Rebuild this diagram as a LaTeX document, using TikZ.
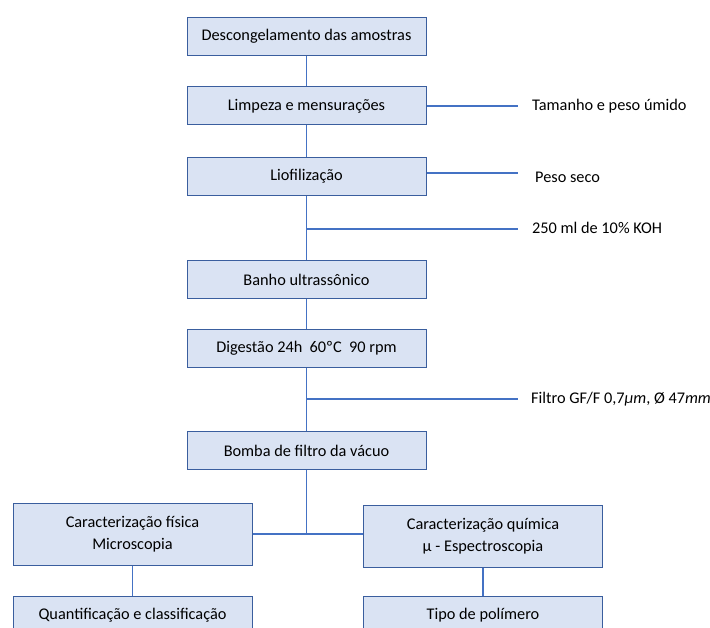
\documentclass[tikz,border=0pt]{standalone}
\usepackage{fontspec}
\setmainfont{Carlito}
\usepackage{tikz}
\usetikzlibrary{positioning,calc}
\usepackage{xcolor}
\definecolor{boxfill}{RGB}{218,227,243}
\definecolor{boxline}{RGB}{58,94,158}
\definecolor{linkblue}{RGB}{68,114,196}
\tikzstyle{stage} = [draw=boxline, line width=1pt, fill=boxfill, minimum width=239pt, minimum height=38pt, inner sep=0pt, align=center, font=\fontsize{16.3}{21.5}\selectfont]
\tikzstyle{wide} = [stage, minimum height=62pt]
\tikzstyle{link} = [line width=1.1pt, color=linkblue]
\tikzstyle{note} = [anchor=west, inner sep=0pt, font=\fontsize{16.3}{21.5}\selectfont]

\begin{document}
\begin{tikzpicture}[x=1pt, y=-1pt]
\useasboundingbox (0,0) rectangle (710,628);

% Main column
\node[stage] (desc)  at (306.5,36.5)  {Descongelamento das amostras};
\node[stage] (limp)  at (306.5,106)   {Limpeza e mensurações};
\node[stage] (liof)  at (306.5,176.5) {Liofilização};
\node[stage] (banho) at (306.5,280)   {Banho ultrassônico};
\node[stage] (dig)   at (306.5,348.5) {Digestão 24h~ 60ºC~ 90 rpm};
\node[stage] (bomba) at (306.5,450.5) {Bomba de filtro da vácuo};

% Characterization
\node[wide] (fis) at (132.5,534) {Caracterização física\\Microscopia};
\node[wide] (qui) at (483,536)   {Caracterização química\\µ - Espectroscopia};
\node[stage] (quant) at (132.5,615) {Quantificação e classificação};
\node[stage] (tipo)  at (483,615)   {Tipo de polímero};

% Side notes
\node[note] (n1) at (532,106) {Tamanho e peso úmido};
\node[note] (n2) at (535,177) {Peso seco};
\node[note] (n3) at (532,228) {250 ml de 10\% KOH};
\node[note] (n4) at (531,399) {Filtro GF/F 0,7\textit{µm}, Ø 47\textit{mm}};

\coordinate (e1) at (518,106);
\coordinate (e2) at (518,173);
\coordinate (j1) at (306.5,229);
\coordinate (e3) at (518,229);
\coordinate (j2) at (306.5,399);
\coordinate (e4) at (518,399);
\coordinate (j3) at (306.5,534);

% Connectors
\draw[link] (desc) -- (limp);
\draw[link] (limp) -- (liof);
\draw[link] (liof) -- (banho);
\draw[link] (banho) -- (dig);
\draw[link] (dig) -- (bomba);
\draw[link] (bomba) -- (j3);
\draw[link] (fis.east |- j3) -- (qui.west |- j3);
\draw[link] (fis) -- (quant);
\draw[link] (qui) -- (tipo);

\draw[link] (limp.east |- e1) -- (e1);
\draw[link] (liof.east |- e2) -- (e2);
\draw[link] (j1) -- (e3);
\draw[link] (j2) -- (e4);
\end{tikzpicture}
\end{document}
